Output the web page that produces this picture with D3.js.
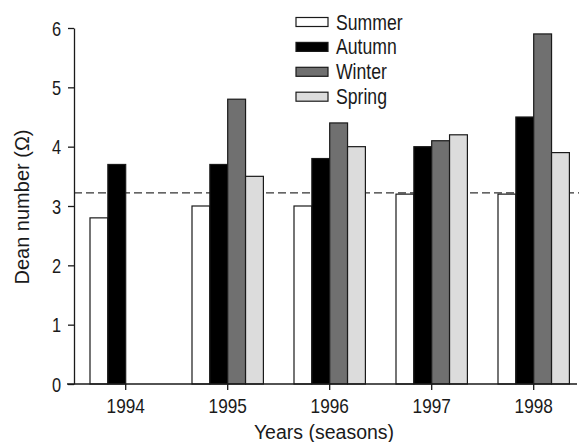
<!DOCTYPE html>
<html>
<head>
<meta charset="utf-8">
<script src="https://cdn.jsdelivr.net/npm/d3@7"></script>
<style>
  html, body { margin: 0; padding: 0; background: #fff; }
  svg { display: block; }
  text { font-family: "Liberation Sans", Arial, sans-serif; }
</style>
</head>
<body>
<svg id="chart" width="579" height="442"></svg>
<script>
const years = ["1994", "1995", "1996", "1997", "1998"];
const seasons = ["Summer", "Autumn", "Winter", "Spring"];
const summer = [2.8, 3.0, 3.0, 3.2, 3.2];
const autumn = [3.7, 3.7, 3.8, 4.0, 4.5];
const winter = [null, 4.8, 4.4, 4.1, 5.9];
const spring = [null, 3.5, 4.0, 4.2, 3.9];
const seriesValues = [summer, autumn, winter, spring];
const seasonColors = ["#ffffff", "#000000", "#707070", "#dcdcdc"];
const yTicks = [0, 1, 2, 3, 4, 5, 6];
const thresholdValue = 3.22;
const xTitle = "Years (seasons)";
const yTitle = "Dean number (\u03A9)";

const NARROW = 0.82;
const svg = d3.select("#chart");
const axisLeftX = 74, axisRightX = 577, chartRight = 579;

const y = d3.scaleLinear().domain([0, 6]).range([384, 28]);
const x = d3.scaleBand().domain(years).range([74.7, 584.7]).paddingInner(0.3).paddingOuter(0.15);
const x1 = d3.scaleBand().domain(seasons).range([0, x.bandwidth()]);
const color = d3.scaleOrdinal().domain(seasons).range(seasonColors);

const data = [];
years.forEach((yr, i) => {
  seasons.forEach((s, j) => {
    const v = seriesValues[j][i];
    if (v !== null) data.push({ year: yr, season: s, value: v });
  });
});

// dashed reference line
svg.append("line")
  .attr("x1", axisLeftX).attr("x2", chartRight)
  .attr("y1", y(thresholdValue)).attr("y2", y(thresholdValue))
  .attr("stroke", "#333").attr("stroke-width", 1.3)
  .attr("stroke-dasharray", "8,4");

// bars
svg.append("g").selectAll("rect").data(data).join("rect")
  .attr("x", d => x(d.year) + x1(d.season))
  .attr("y", d => y(d.value))
  .attr("width", x1.bandwidth())
  .attr("height", d => y(0) - y(d.value))
  .attr("fill", d => color(d.season))
  .attr("stroke", "#1a1a1a").attr("stroke-width", 1.2);

// y axis
const yAxis = svg.append("g").attr("transform", `translate(${axisLeftX},0)`)
  .call(d3.axisLeft(y).tickValues(yTicks).tickFormat(d3.format("d")).tickSizeInner(6).tickSizeOuter(0).tickPadding(7));
yAxis.select(".domain").attr("stroke", "#1a1a1a").attr("stroke-width", 1.3);
yAxis.selectAll(".tick line").attr("stroke", "#1a1a1a").attr("stroke-width", 1.3);
yAxis.selectAll(".tick text")
  .attr("font-size", 20).attr("fill", "#1a1a1a").attr("dy", "0.36em")
  .attr("x", -13 / NARROW).attr("transform", `scale(${NARROW},1)`);

// x axis
const xAxis = svg.append("g").attr("transform", `translate(0,${y(0)})`)
  .call(d3.axisBottom(x).tickSizeInner(6).tickSizeOuter(0).tickPadding(8));
xAxis.select(".domain").remove();
xAxis.append("line").attr("x1", axisLeftX - 7).attr("x2", axisRightX)
  .attr("y1", 0).attr("y2", 0).attr("stroke", "#1a1a1a").attr("stroke-width", 1.3);
xAxis.selectAll(".tick line").attr("stroke", "#1a1a1a").attr("stroke-width", 1.3);
xAxis.selectAll(".tick text")
  .attr("font-size", 21).attr("fill", "#1a1a1a").attr("y", 14).attr("dy", "0.71em")
  .attr("transform", `scale(${NARROW},1)`);

// axis titles
svg.append("text")
  .attr("x", 324).attr("y", 439)
  .attr("text-anchor", "middle").attr("font-size", 19.5).attr("fill", "#1a1a1a")
  .text(xTitle);
svg.append("text")
  .attr("transform", `translate(29,207) rotate(-90)`)
  .attr("text-anchor", "middle").attr("font-size", 20).attr("fill", "#1a1a1a")
  .text(yTitle);

// legend
const legend = svg.append("g").attr("transform", "translate(296,22)");
const rows = legend.selectAll("g").data(seasons).join("g")
  .attr("transform", (d, i) => `translate(0,${i * 24.9})`);
rows.append("rect").attr("x", 0).attr("y", -4.5).attr("width", 32).attr("height", 9)
  .attr("fill", d => color(d)).attr("stroke", "#1a1a1a").attr("stroke-width", 1.2);
rows.append("text").attr("x", 40 / NARROW).attr("y", 7.5)
  .attr("transform", `scale(${NARROW},1)`)
  .attr("font-size", 21.5).attr("fill", "#1a1a1a").text(d => d);
</script>
</body>
</html>
